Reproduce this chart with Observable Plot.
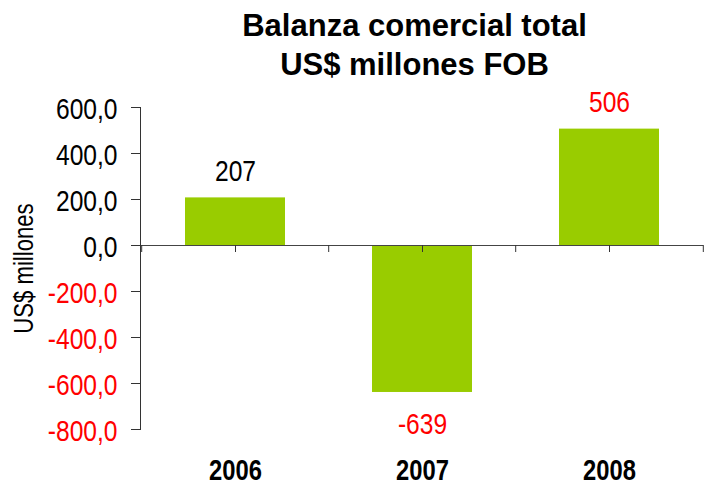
<!DOCTYPE html>
<html><head><meta charset="utf-8">
<script src="https://cdn.jsdelivr.net/npm/d3@7"></script>
<script src="https://cdn.jsdelivr.net/npm/@observablehq/plot@0.6"></script>
<style>body{margin:0;background:#fff}</style>
</head><body><div id="chart"></div>
<script>
const years = ["2006", "2007", "2008"];
const balance = [207, -639, 506];
const yTicks = [600, 400, 200, 0, -200, -400, -600, -800];
const title = "Balanza comercial total\nUS$ millones FOB";
const yLabel = "US$ millones";

const data = years.map((y, i) => ({year: y, value: balance[i]}));
const narrow = "'Liberation Sans', Arial, sans-serif";
const fmt = v => d3.format(".1f")(v).replace(".", ",").replace("\u2212", "-");
const half = 93.8;

const chart = Plot.plot({
  width: 704, height: 485,
  marginLeft: 140, marginRight: 1, marginTop: 107, marginBottom: 56,
  x: {domain: years, paddingInner: 0.467, paddingOuter: 0.233, axis: null},
  y: {domain: [-800, 600], axis: null},
  color: {type: "identity"},
  style: {fontFamily: narrow, background: "white"},
  marks: [
    Plot.barY(data, {x: "year", y: "value", fill: "#99cc00"}),
    Plot.ruleY([0], {stroke: "#444", insetLeft: -9}),
    Plot.ruleX(years, {x: d => d, y1: () => 0, y2: () => 0, insetBottom: -7, stroke: "#333"}),
    Plot.ruleX(years, {x: d => d, dx: -half, y1: () => 0, y2: () => 0, insetBottom: -7, stroke: "#333"}),
    Plot.ruleX(years.slice(-1), {x: d => d, dx: half, y1: () => 0, y2: () => 0, insetBottom: -7, stroke: "#333"}),
    Plot.frame({anchor: "left", stroke: "#333"}),
    Plot.axisY({ticks: yTicks, tickSize: 9, tickFormat: () => "", label: null, stroke: "#333"}),
    Plot.text(yTicks, {y: d => d, text: fmt, frameAnchor: "left", textAnchor: "end", dx: -23, dy: 2,
      fontSize: 30, fill: d => d < 0 ? "red" : "black"}),
    Plot.text([yLabel], {frameAnchor: "left", textAnchor: "middle", rotate: -90, dx: -116, fontSize: 27, fill: "black"}),
    Plot.text(data.filter(d => d.value >= 0), {x: "year", y: "value", text: d => String(d.value),
      lineAnchor: "bottom", dy: -17, fontSize: 30, fill: d => d.year === "2006" ? "black" : "red"}),
    Plot.text(data.filter(d => d.value < 0), {x: "year", y: "value", text: d => String(d.value),
      lineAnchor: "top", dy: 20, fontSize: 30, fill: "red"}),
    Plot.text(years, {x: d => d, text: d => d, frameAnchor: "bottom", lineAnchor: "bottom", dy: 50,
      fontSize: 29, fontWeight: "bold", fill: "black"}),
    Plot.text([title], {frameAnchor: "top", dx: -7.5, dy: -33, lineAnchor: "bottom", lineHeight: 1.23,
      fontSize: 31, fontWeight: "bold", fontFamily: "'Liberation Sans', Arial, sans-serif", fill: "black"})
  ]
});
// condense the body text (the reference uses a narrow face)
d3.select(chart).selectAll("text").each(function() {
  if (this.textContent.includes("Balanza")) return;
  const x = +this.getAttribute("x") || 0;
  const t = this.getAttribute("transform") || "";
  this.setAttribute("transform", `${t} translate(${x},0) scale(0.82,1) translate(${-x},0)`);
});
document.getElementById("chart").append(chart);
</script>
</body></html>
